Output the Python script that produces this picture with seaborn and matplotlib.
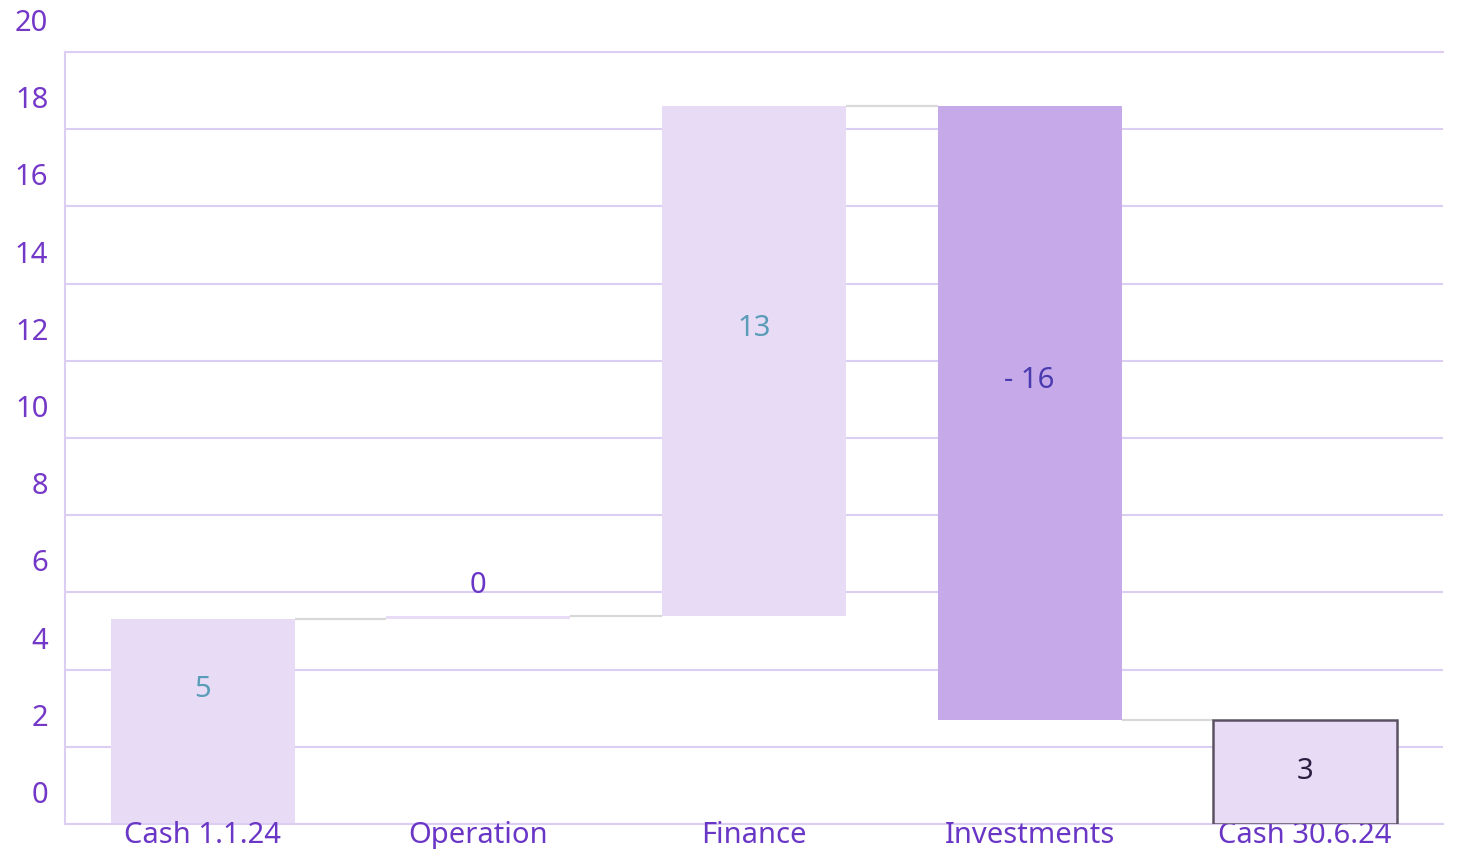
import numpy as np
import matplotlib
matplotlib.use("Agg")
import matplotlib.pyplot as plt
import matplotlib.transforms as mtransforms
import seaborn as sns

# waterfall data
categories = ["Cash 1.1.24", "Operation", "Finance", "Investments", "Cash 30.6.24"]
changes = [5.3, 0.1, 13.2, -15.9]
value_labels = ["5", "0", "13", "- 16", "3"]
y_ticks = [0, 2, 4, 6, 8, 10, 12, 14, 16, 18, 20]

LIGHT = "#e8dbf5"
DARK = "#c5a9e9"
GRID = "#dccdf3"
TICK_COL = "#7438c8"
FS = 21

# running totals -> bar bottoms / heights
totals = np.cumsum(changes)
end_value = totals[-1]
bottoms = [0.0]
heights = [changes[0]]
for i in range(1, len(changes)):
    prev = totals[i - 1]
    bottoms.append(min(prev, totals[i]))
    heights.append(abs(changes[i]))
bottoms.append(0.0)
heights.append(end_value)
bar_colors = [LIGHT, LIGHT, LIGHT, DARK, LIGHT]
label_colors = ["#5a9db8", "#6a36c6", "#5a9db8", "#4a3ab0", "#2b1d40"]

sns.set_theme(style="white")
plt.rcParams["font.family"] = ["Noto Sans", "DejaVu Sans"]

W, H = 1463, 849
fig = plt.figure(figsize=(W / 100, H / 100), dpi=100)
ax = fig.add_axes([65 / W, 25 / H, 1378 / W, 772 / H])

bar_w = 0.667
sns.barplot(x=categories, y=heights, bottom=bottoms, color=LIGHT,
            width=bar_w, ax=ax, saturation=1, linewidth=0, zorder=1)

for i, p in enumerate(ax.patches):
    p.set_facecolor(bar_colors[i])
    p.set_edgecolor("none")
# closing bar gets a dark frame and sits above the axis labels
end_bar = ax.patches[-1]
end_bar.set_edgecolor("#5b5163")
end_bar.set_linewidth(1.8)
end_bar.set_zorder(5)

# connector lines between bars
levels = list(totals)
for i, lvl in enumerate(levels):
    ax.plot([i + bar_w / 2, i + 1 - bar_w / 2], [lvl, lvl],
            color="#d9d9d9", lw=1.6, zorder=1, solid_capstyle="butt")

ax.set_ylim(0, 20)
ax.set_xlim(-0.5, len(categories) - 0.5)
ax.set_yticks(y_ticks)
ax.set_axisbelow(True)
ax.grid(axis="y", color=GRID, lw=1.5)
ax.grid(axis="x", visible=False)
ax.spines["right"].set_visible(False)
for side in ["left", "top", "bottom"]:
    ax.spines[side].set_color(GRID)
    ax.spines[side].set_linewidth(1.5)

ax.tick_params(axis="y", length=0, pad=12, labelsize=FS, labelcolor=TICK_COL)
ax.set_xticks(range(len(categories)))
ax.set_xticklabels([])
ax.tick_params(axis="x", length=0)
ax.set_xlabel("")
ax.set_ylabel("")

# y tick labels sit above their grid lines in the original
up = mtransforms.ScaledTranslation(0, 32 / 100, fig.dpi_scale_trans)
for lab in ax.get_yticklabels():
    lab.set_transform(lab.get_transform() + up)

# category labels, drawn under the closing bar
down = mtransforms.ScaledTranslation(0, -19 / 100, fig.dpi_scale_trans)
xtrans = ax.get_xaxis_transform() + down
for i, cat in enumerate(categories):
    ax.text(i, 0, cat, transform=xtrans, ha="center", va="baseline",
            fontsize=FS, color="#6a36c6", zorder=3, clip_on=False)

# value labels
for i, txt in enumerate(value_labels):
    mid = bottoms[i] + heights[i] / 2
    tr = ax.transData
    if i < len(value_labels) - 1:
        tr = ax.transData + up
    ax.text(i, mid, txt, transform=tr, ha="center", va="center",
            fontsize=FS, color=label_colors[i], zorder=6)

fig.savefig("out.png", dpi=100)
